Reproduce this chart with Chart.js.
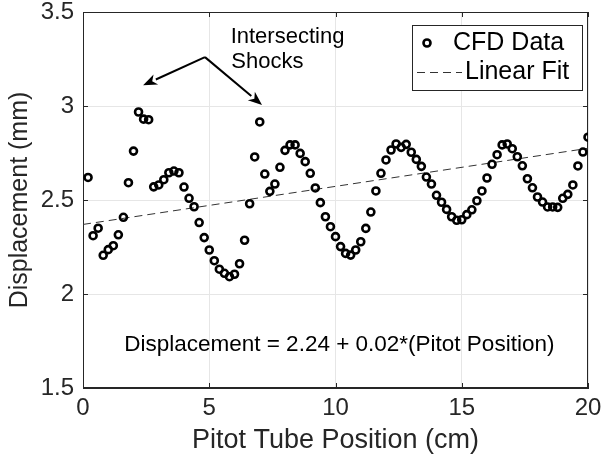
<!DOCTYPE html>
<html>
<head>
<meta charset="utf-8">
<script src="https://cdn.jsdelivr.net/npm/chart.js@4/dist/chart.umd.min.js"></script>
<style>
html,body{margin:0;padding:0;background:#fff;}
#wrap{width:601px;height:466px;position:relative;}
</style>
</head>
<body>
<div id="wrap"><canvas id="c" width="601" height="466"></canvas></div>
<script>
const positions = [0.2,0.4,0.6,0.8,1.0,1.2,1.4,1.6,1.8,2.0,2.2,2.4,2.6,2.8,3.0,3.2,3.4,3.6,3.8,4.0,
  4.2,4.4,4.6,4.8,5.0,5.2,5.4,5.6,5.8,6.0,6.2,6.4,6.6,6.8,7.0,7.2,7.4,7.6,7.8,8.0,
  8.2,8.4,8.6,8.8,9.0,9.2,9.4,9.6,9.8,10.0,10.2,10.4,10.6,10.8,11.0,11.2,11.4,11.6,11.8,12.0,
  12.2,12.4,12.6,12.8,13.0,13.2,13.4,13.6,13.8,14.0,14.2,14.4,14.6,14.8,15.0,15.2,15.4,15.6,15.8,16.0,
  16.2,16.4,16.6,16.8,17.0,17.2,17.4,17.6,17.8,18.0,18.2,18.4,18.6,18.8,19.0,19.2,19.4,19.6,19.8,20.0];
const displacement = [2.62,2.31,2.35,2.206,2.236,2.257,2.315,2.408,2.592,2.76,2.968,2.93,2.927,2.57,2.58,2.608,2.645,2.654,2.645,2.569,
  2.509,2.464,2.38,2.30,2.234,2.177,2.132,2.11,2.092,2.105,2.161,2.286,2.48,2.729,2.915,2.638,2.546,2.585,2.674,2.764,
  2.793,2.793,2.748,2.704,2.642,2.564,2.486,2.411,2.358,2.305,2.252,2.216,2.207,2.234,2.278,2.349,2.436,2.548,2.642,2.713,
  2.766,2.798,2.78,2.796,2.754,2.716,2.679,2.622,2.585,2.525,2.488,2.45,2.411,2.392,2.395,2.422,2.448,2.496,2.548,2.617,
  2.69,2.741,2.793,2.798,2.773,2.73,2.682,2.613,2.565,2.516,2.489,2.463,2.463,2.461,2.509,2.53,2.58,2.681,2.755,2.834];
const fitX = [0, 20];
const fitY = [2.37, 2.775];
const xTicks = [0, 5, 10, 15, 20];
const yTicks = [1.5, 2, 2.5, 3, 3.5];
const seriesNames = ["CFD Data", "Linear Fit"];
const axisTitles = {x: "Pitot Tube Position (cm)", y: "Displacement (mm)"};
const annotationLines = ["Intersecting", "Shocks"];
const equationText = "Displacement = 2.24 + 0.02*(Pitot Position)";

const FONT = "'Liberation Sans', Arial, Helvetica, sans-serif";
const AX = '#262626';

const cfdPoints = positions.map((x, i) => ({x: x, y: displacement[i]}));
const fitPoints = fitX.map((x, i) => ({x: x, y: fitY[i]}));

const decorPlugin = {
  id: 'decor',
  beforeDatasetsDraw(chart) {
    const {ctx, chartArea: a, scales: {x, y}} = chart;
    ctx.save();
    ctx.strokeStyle = AX;
    ctx.lineWidth = 1;
    ctx.strokeRect(Math.round(a.left) + 0.5, Math.round(a.top) + 0.5, Math.round(a.right - a.left) - 1, Math.round(a.bottom - a.top) - 1);
    const tl = 5;
    ctx.beginPath();
    xTicks.forEach(v => {
      const px = Math.round(x.getPixelForValue(v)) + 0.5;
      ctx.moveTo(px, a.bottom); ctx.lineTo(px, a.bottom - tl);
      ctx.moveTo(px, a.top); ctx.lineTo(px, a.top + tl);
    });
    yTicks.forEach(v => {
      const py = Math.round(y.getPixelForValue(v)) + 0.5;
      ctx.moveTo(a.left, py); ctx.lineTo(a.left + tl, py);
      ctx.moveTo(a.right, py); ctx.lineTo(a.right - tl, py);
    });
    ctx.stroke();
    ctx.restore();
  },
  afterDatasetsDraw(chart) {
    const {ctx, chartArea: a, scales: {x, y}} = chart;
    ctx.save();
    const apex = [x.getPixelForValue(4.83), y.getPixelForValue(3.26)];
    const tips = [[x.getPixelForValue(2.38), y.getPixelForValue(3.11)], [x.getPixelForValue(7.09), y.getPixelForValue(3.005)]];
    ctx.strokeStyle = '#000';
    ctx.fillStyle = '#000';
    ctx.lineWidth = 2;
    tips.forEach(t => {
      const ang = Math.atan2(t[1] - apex[1], t[0] - apex[0]);
      const hl = 14, hw = 5.5;
      const bx = t[0] - hl * Math.cos(ang), by = t[1] - hl * Math.sin(ang);
      ctx.beginPath();
      ctx.moveTo(apex[0], apex[1]);
      ctx.lineTo(bx, by);
      ctx.stroke();
      ctx.beginPath();
      ctx.moveTo(t[0], t[1]);
      ctx.lineTo(bx + hw * Math.sin(ang), by - hw * Math.cos(ang));
      ctx.lineTo(t[0] - (hl - 4) * Math.cos(ang), t[1] - (hl - 4) * Math.sin(ang));
      ctx.lineTo(bx - hw * Math.sin(ang), by + hw * Math.cos(ang));
      ctx.closePath();
      ctx.fill();
    });
    ctx.fillStyle = '#000';
    ctx.font = '22px ' + FONT;
    ctx.textAlign = 'center';
    ctx.textBaseline = 'middle';
    ctx.fillText(annotationLines[0], x.getPixelForValue(8.1), y.getPixelForValue(3.365));
    ctx.fillText(annotationLines[1], x.getPixelForValue(7.3), y.getPixelForValue(3.235));
    ctx.font = '22.5px ' + FONT;
    ctx.fillText(equationText, x.getPixelForValue(10.15), y.getPixelForValue(1.73));
    // legend
    const lw = 170, lh = 65;
    const lx = Math.round(a.right - 6 - lw), ly = Math.round(a.top + 13);
    ctx.fillStyle = '#fff';
    ctx.fillRect(lx, ly, lw, lh);
    ctx.strokeStyle = AX;
    ctx.lineWidth = 1;
    ctx.strokeRect(lx + 0.5, ly + 0.5, lw, lh);
    ctx.strokeStyle = '#000';
    ctx.lineWidth = 2.6;
    ctx.beginPath();
    ctx.arc(lx + 15, ly + 18, 3.5, 0, Math.PI * 2);
    ctx.stroke();
    ctx.lineWidth = 1;
    ctx.strokeStyle = '#333';
    ctx.setLineDash([8, 5]);
    ctx.beginPath();
    ctx.moveTo(lx + 5, ly + 47.5);
    ctx.lineTo(lx + 50, ly + 47.5);
    ctx.stroke();
    ctx.setLineDash([]);
    ctx.fillStyle = '#000';
    ctx.font = '25px ' + FONT;
    ctx.textAlign = 'left';
    ctx.textBaseline = 'middle';
    ctx.fillText(seriesNames[0], lx + 41, ly + 18);
    ctx.fillText(seriesNames[1], lx + 53, ly + 47);
    ctx.restore();
  }
};

new Chart(document.getElementById('c'), {
  type: 'scatter',
  data: {
    datasets: [
      {
        label: seriesNames[1],
        data: fitPoints,
        showLine: true,
        borderColor: '#333',
        borderWidth: 1,
        borderDash: [8, 5],
        pointRadius: 0,
        fill: false,
        order: 2
      },
      {
        label: seriesNames[0],
        data: cfdPoints,
        showLine: false,
        pointStyle: 'circle',
        pointRadius: 3.5,
        pointBorderWidth: 2.6,
        pointBorderColor: '#000',
        pointBackgroundColor: 'rgba(255,255,255,0)',
        order: 1
      }
    ]
  },
  options: {
    responsive: false,
    animation: false,
    events: [],
    layout: {padding: {top: 12, right: 13, left: 0, bottom: 0}},
    plugins: {legend: {display: false}, tooltip: {enabled: false}},
    scales: {
      x: {
        type: 'linear',
        min: 0, max: 20,
        afterFit(s) { s.height = 78; s.paddingLeft = 0; s.paddingRight = 0; },
        afterBuildTicks(s) { s.ticks = xTicks.map(v => ({value: v})); },
        ticks: {color: '#262626', font: {family: FONT, size: 24}, padding: 6, maxRotation: 0, callback: v => String(v)},
        grid: {color: '#e6e6e6', lineWidth: 1, drawTicks: false},
        border: {display: true, color: AX, width: 1},
        title: {display: true, text: axisTitles.x, color: '#262626', font: {family: FONT, size: 27, lineHeight: 1.2}, padding: {top: 0, bottom: 9}}
      },
      y: {
        type: 'linear',
        min: 1.5, max: 3.5,
        afterFit(s) { s.width = 83; s.paddingTop = 0; s.paddingBottom = 0; },
        afterBuildTicks(s) { s.ticks = yTicks.map(v => ({value: v})); },
        ticks: {color: '#262626', font: {family: FONT, size: 24}, padding: 9, callback: v => String(v)},
        grid: {color: '#e6e6e6', lineWidth: 1, drawTicks: false},
        border: {display: true, color: AX, width: 1},
        title: {display: true, text: axisTitles.y, color: '#262626', font: {family: FONT, size: 25, lineHeight: 1.2}, padding: {top: 5, bottom: 0}}
      }
    }
  },
  plugins: [decorPlugin]
});
</script>
</body>
</html>
